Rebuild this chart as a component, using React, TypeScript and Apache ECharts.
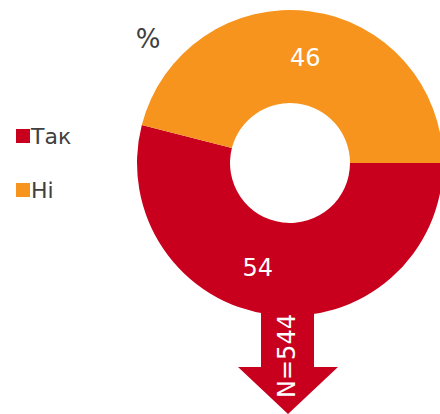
import React, { useEffect, useRef } from "react";
import * as echarts from "echarts";

const categories = ["Так", "Ні"];
const values = [54, 46];
const colors = ["#C8001E", "#F7941D"];
const unitLabel = "%";
const sampleLabel = "N=544";

export default function App() {
  const ref = useRef<HTMLDivElement>(null);
  useEffect(() => {
    const chart = echarts.init(ref.current!, null, { renderer: "svg" });
    const font = "'DejaVu Sans', Verdana, sans-serif";
    chart.setOption({
      animation: false,
      legend: {
        orient: "vertical",
        left: 11,
        top: 120,
        icon: "rect",
        itemWidth: 14,
        itemHeight: 14,
        itemGap: 32,
        data: categories.map((name, i) => ({ name, itemStyle: { color: colors[i] } })),
        textStyle: { fontSize: 22, color: "#404040", fontFamily: font, padding: [0, 0, 0, -4] },
      },
      graphic: [
        {
          type: "polygon",
          z: 0,
          shape: {
            points: [
              [261, 290],
              [314, 290],
              [314, 367],
              [338, 367],
              [288, 414],
              [238, 367],
              [261, 367],
            ],
          },
          style: { fill: colors[0] },
        },
        {
          type: "text",
          z: 10,
          x: 287,
          y: 356,
          rotation: Math.PI / 2,
          style: {
            text: sampleLabel,
            fill: "#fff",
            font: `24px ${font}`,
            align: "center",
            verticalAlign: "middle",
          },
        },
        {
          type: "text",
          x: 148,
          y: 39,
          style: {
            text: unitLabel,
            fill: "#404040",
            font: `26px ${font}`,
            align: "center",
            verticalAlign: "middle",
          },
        },
      ],
      series: [
        {
          type: "pie",
          z: 2,
          center: [290, 163],
          radius: [60, 153],
          startAngle: 0,
          clockwise: true,
          label: { show: false },
          labelLine: { show: false },
          emphasis: { disabled: true },
          data: categories.map((name, i) => ({
            name,
            value: values[i],
            itemStyle: { color: colors[i] },
          })),
        },
        {
          type: "pie",
          z: 3,
          silent: true,
          center: [290, 163],
          radius: [60, 145],
          startAngle: 0,
          clockwise: true,
          itemStyle: { color: "rgba(0,0,0,0)" },
          label: {
            show: true,
            position: "inner",
            formatter: "{c}",
            color: "#fff",
            fontSize: 24,
            fontFamily: font,
          },
          labelLine: { show: false },
          emphasis: { disabled: true },
          data: categories.map((name, i) => ({
            name,
            value: values[i],
            label: i === 0 ? { padding: [0, 38, 0, 0] } : { padding: [0, 0, 0, 4] },
          })),
        },
      ],
    });
    return () => chart.dispose();
  }, []);
  return <div ref={ref} style={{ width: 440, height: 414, position: "absolute", left: 0, top: 0 }} />;
}
